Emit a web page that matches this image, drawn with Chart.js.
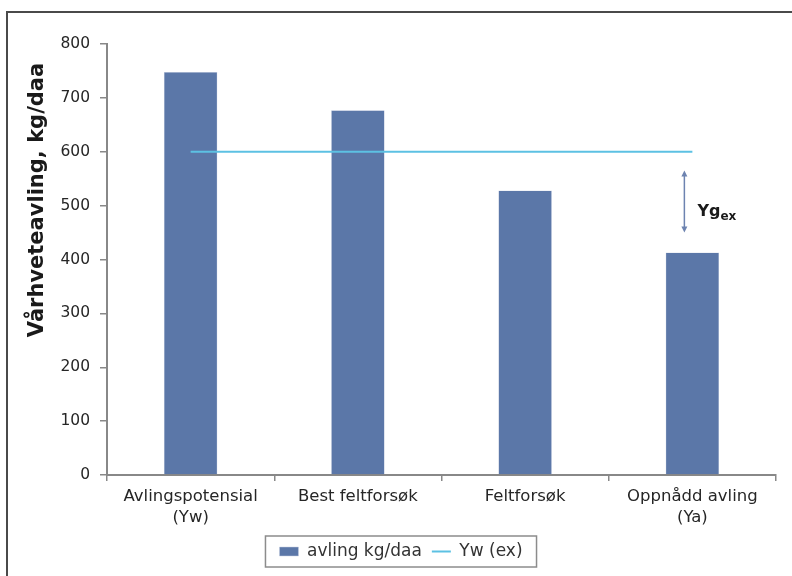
<!DOCTYPE html>
<html lang="no">
  <head>
    <meta charset="UTF-8" />
    <title>Vårhveteavling</title>
    <style>
      body { margin: 0; background: #fff; }
      #wrap { position: relative; width: 792px; height: 576px; overflow: hidden; }
      #frame {
        position: absolute; left: 6px; top: 11px; width: 900px; height: 700px;
        border-top: 2px solid #4a4a4a; border-left: 2px solid #4a4a4a;
      }
      #myChart { position: absolute; left: 0; top: 0; }
    </style>
  </head>
  <body>
    <div id="wrap">
      <div id="frame"></div>
      <canvas id="myChart" width="792" height="576"></canvas>
    </div>
    <script src="https://cdn.jsdelivr.net/npm/chart.js"></script>
    <script>
      // data
      const categories = [
        ["Avlingspotensial", "(Yw)"],
        "Best feltforsøk",
        "Feltforsøk",
        ["Oppnådd avling", "(Ya)"],
      ];
      const avling = [748, 677, 528, 413];
      const ywEx = [600, 600, 600, 600];
      const yTicks = [0, 100, 200, 300, 400, 500, 600, 700, 800];

      // the Yg(ex) arrow, in data units
      const ygFrom = 565;
      const ygTo = 450;
      const ygCategory = 3;

      const barColor = "#5b77a8";
      const lineColor = "#5cc1e3";
      const textColor = "#262626";
      const font = "'DejaVu Sans'";

      const extras = {
        id: "extras",
        afterDraw(chart) {
          const ctx = chart.ctx;
          const x = chart.scales.x;
          const y = chart.scales.y;
          const area = chart.chartArea;

          // y axis title
          ctx.save();
          ctx.translate(38, area.top + 156);
          ctx.rotate(-Math.PI / 2);
          ctx.font = "bold 21px " + font;
          ctx.fillStyle = "#1a1a1a";
          ctx.textAlign = "center";
          ctx.textBaseline = "middle";
          ctx.fillText("Vårhveteavling, kg/daa", 0, 0);
          ctx.restore();

          // arrow Yg ex
          const ax = x.getPixelForValue(ygCategory) - 8;
          const y1 = y.getPixelForValue(ygFrom);
          const y2 = y.getPixelForValue(ygTo);
          ctx.save();
          ctx.strokeStyle = "#6d83b0";
          ctx.fillStyle = "#6d83b0";
          ctx.lineWidth = 1.5;
          ctx.beginPath();
          ctx.moveTo(ax, y1 + 3);
          ctx.lineTo(ax, y2 - 3);
          ctx.stroke();
          ctx.beginPath();
          ctx.moveTo(ax, y1);
          ctx.lineTo(ax - 3, y1 + 6);
          ctx.lineTo(ax + 3, y1 + 6);
          ctx.fill();
          ctx.beginPath();
          ctx.moveTo(ax, y2);
          ctx.lineTo(ax - 3, y2 - 6);
          ctx.lineTo(ax + 3, y2 - 6);
          ctx.fill();
          ctx.fillStyle = "#1a1a1a";
          ctx.textBaseline = "alphabetic";
          ctx.font = "bold 16px " + font;
          ctx.fillText("Yg", ax + 13, y2 - 17);
          const w = ctx.measureText("Yg").width;
          ctx.font = "bold 12px " + font;
          ctx.fillText("ex", ax + 13 + w, y2 - 13);
          ctx.restore();

          // legend border
          const lg = chart.legend;
          const boxes = lg.legendHitBoxes;
          if (boxes && boxes.length) {
            const l = boxes[0].left - 14;
            const last = boxes[boxes.length - 1];
            const r = last.left + last.width + 14;
            const t = boxes[0].top - 7;
            const b = boxes[0].top + boxes[0].height + 7;
            ctx.save();
            ctx.strokeStyle = "#8c8c8c";
            ctx.lineWidth = 1.5;
            ctx.strokeRect(l, t, r - l, b - t);
            ctx.restore();
          }
        },
      };

      new Chart(document.getElementById("myChart"), {
        type: "bar",
        data: {
          labels: categories,
          datasets: [
            {
              type: "bar",
              label: "avling kg/daa",
              data: avling,
              backgroundColor: barColor,
              borderColor: "#c5cde0",
              borderWidth: 0.5,
              barPercentage: 0.32,
              categoryPercentage: 1,
              pointStyle: "rect",
              order: 2,
            },
            {
              type: "line",
              label: "Yw (ex)",
              data: ywEx,
              borderColor: lineColor,
              backgroundColor: lineColor,
              borderWidth: 2,
              pointRadius: 0,
              pointStyle: "line",
              order: 1,
            },
          ],
        },
        options: {
          responsive: false,
          animation: false,
          layout: { padding: { top: 44, right: 16, left: 26, bottom: 6 } },
          plugins: {
            tooltip: { enabled: false },
            legend: {
              position: "bottom",
              labels: {
                usePointStyle: true,
                pointStyleWidth: 19,
                boxHeight: 9,
                padding: 10,
                color: "#333",
                font: { family: font, size: 17 },
                sort: (a, b) => a.datasetIndex - b.datasetIndex,
              },
            },
          },
          scales: {
            x: {
              grid: {
                drawOnChartArea: false,
                tickLength: 6,
                color: "#888",
                lineWidth: 1.5,
              },
              border: { color: "#888", width: 2 },
              ticks: {
                color: textColor,
                padding: 5,
                maxRotation: 0,
                autoSkip: false,
                font: { family: font, size: 16.5, lineHeight: 1.3 },
              },
              afterFit(scale) {
                scale.height = 58;
              },
            },
            y: {
              min: 0,
              max: 800,
              afterBuildTicks(scale) {
                scale.ticks = yTicks.map((v) => ({ value: v }));
              },
              grid: {
                drawOnChartArea: false,
                tickLength: 7,
                color: "#888",
                lineWidth: 1.5,
              },
              border: { color: "#888", width: 2 },
              ticks: {
                color: textColor,
                padding: 10,
                font: { family: font, size: 15.5 },
              },
              afterFit(scale) {
                scale.width = 81;
              },
            },
          },
        },
        plugins: [extras],
      });
    </script>
  </body>
</html>
